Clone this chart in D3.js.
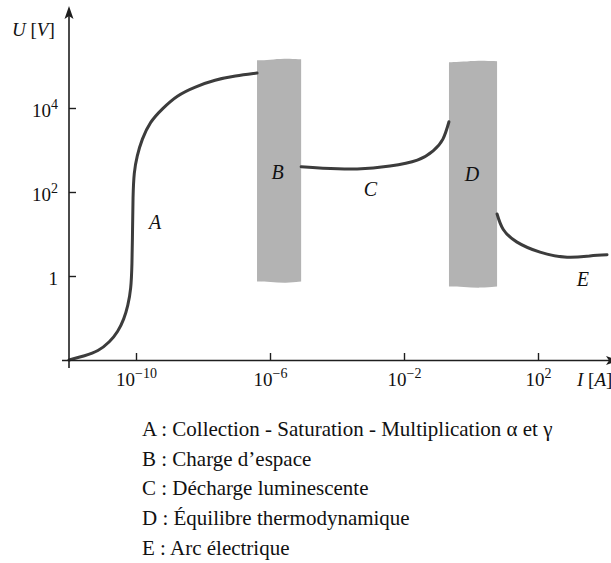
<!DOCTYPE html>
<html><head><meta charset="utf-8">
<script src="https://cdn.jsdelivr.net/npm/d3@7"></script>
</head>
<body style="margin:0;background:#fff">
<svg id="chart" width="611" height="563" style="display:block"></svg>
<script>
// ---- data (I in A, U in V) ----
const curveA_I = [1e-12, 3.0e-12, 7.4e-12, 1.66e-11, 2.9e-11, 4.4e-11, 5.75e-11, 7.1e-11, 7.6e-11, 7.9e-11, 8.1e-11, 8.7e-11, 1.07e-10, 1.5e-10, 2.6e-10, 6.0e-10, 1.66e-9, 5.8e-9, 2.3e-8, 9.1e-8, 4.1e-7];
const curveA_U = [0.01, 0.0126, 0.016, 0.027, 0.047, 0.095, 0.195, 0.49, 1.74, 13, 79, 300, 720, 1800, 4700, 9500, 20000, 32000, 47000, 58000, 68000];
const curveC_I = [8.5e-6, 3.8e-5, 4.0e-4, 3.8e-3, 0.025, 0.074, 0.145, 0.22];
const curveC_U = [400, 370, 355, 415, 575, 955, 1820, 4700];
const curveE_I = [6.0, 9.1, 23, 115, 740, 3500, 11500];
const curveE_U = [30, 13, 6.5, 3.7, 2.8, 3.0, 3.2];
const bandNames = ["B", "D"];
const bandI0 = [4.1e-7, 0.22];
const bandI1 = [8.5e-6, 6.0];
const bandU0 = [0.72, 0.55];
const bandU1 = [1.4e5, 1.26e5];
const regionLetters = ["A", "B", "C", "D", "E"];
const regionI = [3.7e-10, 1.7e-6, 1.0e-3, 1.07, 2200];
const regionU = [19, 300, 117, 270, 0.85];
const xTickValues = [1e-10, 1e-6, 1e-2, 1e2];
const xTickBase = ["10", "10", "10", "10"];
const xTickExp = ["\u221210", "\u22126", "\u22122", "2"];
const yTickValues = [1e4, 1e2, 1];
const yTickBase = ["10", "10", "1"];
const yTickExp = ["4", "2", ""];
const legendKeys = ["A", "B", "C", "D", "E"];
const legendTexts = [
  "Collection - Saturation - Multiplication \u03b1 et  \u03b3",
  "Charge d\u2019espace",
  "D\u00e9charge luminescente",
  "\u00c9quilibre thermodynamique",
  "Arc \u00e9lectrique"
];

// ---- scales ----
const FONT = "'Liberation Serif'";
const svg = d3.select("#chart");
const x = d3.scaleLog().domain([1e-12, 1e4]).range([69, 605]);
const y = d3.scaleLog().domain([0.01, 1e6]).range([360, 24]);
const x0 = 69, y0 = 360;
const axisColor = "#1e1e1e";
const curveColor = "#3c3c3c";
const bandColor = "#b3b3b3";
const txt = (sel) => sel.append("text").style("font-family", FONT).attr("fill", "#111");

// ---- bands (slightly ragged edges) ----
const edge = d3.line().curve(d3.curveBasis);
bandNames.forEach((n, i) => {
  const xa = x(bandI0[i]), xb = x(bandI1[i]);
  const yt = y(bandU1[i]), yb = y(bandU0[i]);
  const w = xb - xa;
  const top = [[xa, yt + 0.5], [xa + w * 0.3, yt], [xa + w * 0.6, yt - 1.5], [xb, yt - 0.5]];
  const bot = [[xb, yb - 0.5], [xb - w * 0.35, yb + 1.2], [xb - w * 0.7, yb], [xa, yb - 0.5]];
  svg.append("path")
    .attr("d", edge(top) + "L" + bot[0] + edge(bot).replace(/^M[^CL]*/, "") + "Z")
    .attr("fill", bandColor);
});

// ---- curves ----
const lineA = d3.line().x(d => x(d[0])).y(d => y(d[1])).curve(d3.curveBasis);
const lineCE = d3.line().x(d => x(d[0])).y(d => y(d[1])).curve(d3.curveNatural);
[[curveA_I, curveA_U, lineA], [curveC_I, curveC_U, lineCE], [curveE_I, curveE_U, lineCE]].forEach(([I, U, ln]) => {
  svg.append("path")
    .datum(I.map((v, k) => [v, U[k]]))
    .attr("d", ln)
    .attr("fill", "none")
    .attr("stroke", curveColor)
    .attr("stroke-width", 3)
    .attr("stroke-linecap", "round");
});

// ---- axes ----
svg.append("line").attr("x1", 62).attr("x2", 620).attr("y1", y0 + 0.5).attr("y2", y0 + 0.5)
  .attr("stroke", axisColor).attr("stroke-width", 1.6);
svg.append("line").attr("x1", x0).attr("x2", x0).attr("y1", 368).attr("y2", 14)
  .attr("stroke", axisColor).attr("stroke-width", 1.6);
svg.append("path").attr("d", `M${x0},6 L${x0 - 4.5},19 L${x0},16 L${x0 + 4.5},19 Z`).attr("fill", axisColor);
svg.append("path").attr("d", `M${619},${y0 + 0.5} L${606},${y0 - 4} L${609},${y0 + 0.5} L${606},${y0 + 5} Z`).attr("fill", axisColor);

// x ticks
const xg = svg.append("g");
xTickValues.forEach((v, i) => {
  const px = Math.round(x(v)) + 0.5;
  xg.append("line").attr("x1", px).attr("x2", px).attr("y1", y0).attr("y2", y0 - 7)
    .attr("stroke", axisColor).attr("stroke-width", 1.4);
  const t = txt(xg).attr("x", px).attr("y", 386).attr("text-anchor", "middle").attr("font-size", 19);
  t.append("tspan").text(xTickBase[i]);
  t.append("tspan").attr("dy", -8).attr("font-size", 14).text(xTickExp[i]);
});
// y ticks
const yg = svg.append("g");
yTickValues.forEach((v, i) => {
  const py = Math.round(y(v)) + 0.5;
  yg.append("line").attr("x1", x0).attr("x2", x0 + 7).attr("y1", py).attr("y2", py)
    .attr("stroke", axisColor).attr("stroke-width", 1.4);
  const t = txt(yg).attr("x", 58).attr("y", py + 8).attr("text-anchor", "end").attr("font-size", 19);
  t.append("tspan").text(yTickBase[i]);
  if (yTickExp[i]) t.append("tspan").attr("dy", -8).attr("font-size", 14).text(yTickExp[i]);
});

// axis titles
const uT = txt(svg).attr("x", 12).attr("y", 36).attr("font-size", 19);
uT.append("tspan").attr("font-style", "italic").text("U");
uT.append("tspan").text(" [");
uT.append("tspan").attr("font-style", "italic").text("V");
uT.append("tspan").text("]");
const iT = txt(svg).attr("x", 577).attr("y", 386).attr("font-size", 19);
iT.append("tspan").attr("font-style", "italic").text("I");
iT.append("tspan").text(" [");
iT.append("tspan").attr("font-style", "italic").text("A");
iT.append("tspan").text("]");

// region letters
regionLetters.forEach((L, i) => {
  txt(svg).attr("x", x(regionI[i])).attr("y", y(regionU[i]) + 7)
    .attr("text-anchor", "middle").attr("font-size", 20).attr("font-style", "italic").text(L);
});

// legend
legendKeys.forEach((k, i) => {
  txt(svg).attr("x", 142).attr("y", 436 + i * 29.7).attr("font-size", 21)
    .text(k + " : " + legendTexts[i]);
});

// force layout so the named font is resolved before the picture is taken
svg.selectAll("text").each(function () { this.getComputedTextLength(); });
</script>
</body></html>
